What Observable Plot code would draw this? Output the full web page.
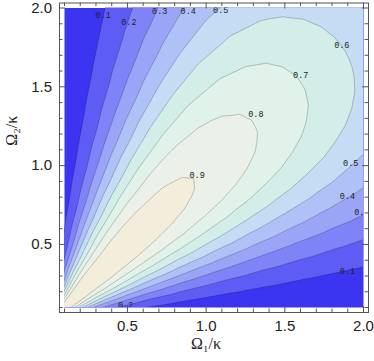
<!DOCTYPE html>
<html>
<head>
<meta charset="utf-8">
<script src="https://cdn.jsdelivr.net/npm/d3@7"></script>
<script src="https://cdn.jsdelivr.net/npm/@observablehq/plot@0.6"></script>
<style>
  html, body { margin: 0; padding: 0; background: #fff; }
  #chart svg { display: block; }
</style>
</head>
<body>
<div id="chart"></div>
<script>
const angles = [0, 2.5, 5, 7.5, 10, 12.5, 15, 17.5, 20, 22.5, 25, 27.5, 30, 32.5, 35, 37.5, 40, 42.5, 45,
                47.5, 50, 52.5, 55, 57.5, 60, 62.5, 65, 67.5, 70, 72.5, 75, 77.5, 80, 82.5, 85, 87.5, 90];
const radii = [0.12, 0.35, 0.65, 0.9, 1.15, 1.4, 1.65, 1.9, 2.15, 2.4, 2.65, 2.9];
const values = [
  [0, 0, 0, 0, 0, 0, 0, 0, 0, 0, 0, 0],
  [0.008, 0.008, 0.007, 0.007, 0.007, 0.007, 0.007, 0.007, 0.006, 0.006, 0.006, 0.006],
  [0.030, 0.030, 0.030, 0.029, 0.029, 0.028, 0.027, 0.026, 0.025, 0.024, 0.023, 0.022],
  [0.067, 0.067, 0.066, 0.065, 0.063, 0.062, 0.060, 0.058, 0.055, 0.053, 0.050, 0.047],
  [0.117, 0.116, 0.115, 0.113, 0.111, 0.108, 0.104, 0.100, 0.095, 0.091, 0.085, 0.080],
  [0.178, 0.178, 0.175, 0.172, 0.168, 0.164, 0.158, 0.151, 0.144, 0.136, 0.128, 0.119],
  [0.250, 0.249, 0.245, 0.241, 0.235, 0.228, 0.220, 0.210, 0.199, 0.187, 0.174, 0.161],
  [0.329, 0.327, 0.322, 0.316, 0.309, 0.299, 0.287, 0.274, 0.259, 0.242, 0.224, 0.205],
  [0.413, 0.411, 0.405, 0.397, 0.387, 0.374, 0.358, 0.341, 0.321, 0.299, 0.275, 0.250],
  [0.500, 0.497, 0.489, 0.480, 0.467, 0.451, 0.431, 0.409, 0.384, 0.356, 0.325, 0.293],
  [0.586, 0.583, 0.574, 0.562, 0.547, 0.527, 0.503, 0.476, 0.445, 0.410, 0.373, 0.334],
  [0.671, 0.667, 0.656, 0.642, 0.624, 0.601, 0.573, 0.540, 0.503, 0.462, 0.418, 0.371],
  [0.749, 0.745, 0.733, 0.717, 0.696, 0.669, 0.637, 0.600, 0.557, 0.509, 0.458, 0.404],
  [0.821, 0.816, 0.802, 0.785, 0.761, 0.731, 0.695, 0.653, 0.604, 0.551, 0.493, 0.432],
  [0.882, 0.877, 0.862, 0.843, 0.817, 0.785, 0.745, 0.698, 0.645, 0.586, 0.522, 0.455],
  [0.932, 0.927, 0.911, 0.890, 0.863, 0.828, 0.785, 0.735, 0.677, 0.614, 0.545, 0.473],
  [0.969, 0.963, 0.947, 0.925, 0.896, 0.859, 0.814, 0.761, 0.701, 0.634, 0.562, 0.486],
  [0.992, 0.986, 0.969, 0.946, 0.916, 0.878, 0.832, 0.778, 0.715, 0.646, 0.572, 0.494],
  [0.999, 0.993, 0.976, 0.954, 0.923, 0.885, 0.838, 0.783, 0.720, 0.650, 0.575, 0.496],
  [0.992, 0.986, 0.969, 0.946, 0.916, 0.878, 0.832, 0.778, 0.715, 0.646, 0.572, 0.494],
  [0.969, 0.963, 0.947, 0.925, 0.896, 0.859, 0.814, 0.761, 0.701, 0.634, 0.562, 0.486],
  [0.932, 0.927, 0.911, 0.890, 0.863, 0.828, 0.785, 0.735, 0.677, 0.614, 0.545, 0.473],
  [0.882, 0.877, 0.862, 0.843, 0.817, 0.785, 0.745, 0.698, 0.645, 0.586, 0.522, 0.455],
  [0.821, 0.816, 0.802, 0.785, 0.761, 0.731, 0.695, 0.653, 0.604, 0.551, 0.493, 0.432],
  [0.749, 0.745, 0.733, 0.717, 0.696, 0.669, 0.637, 0.600, 0.557, 0.509, 0.458, 0.404],
  [0.671, 0.667, 0.656, 0.642, 0.624, 0.601, 0.573, 0.540, 0.503, 0.462, 0.418, 0.371],
  [0.586, 0.583, 0.574, 0.562, 0.547, 0.527, 0.503, 0.476, 0.445, 0.410, 0.373, 0.334],
  [0.500, 0.497, 0.489, 0.480, 0.467, 0.451, 0.431, 0.409, 0.384, 0.356, 0.325, 0.293],
  [0.413, 0.411, 0.405, 0.397, 0.387, 0.374, 0.358, 0.341, 0.321, 0.299, 0.275, 0.250],
  [0.329, 0.327, 0.322, 0.316, 0.309, 0.299, 0.287, 0.274, 0.259, 0.242, 0.224, 0.205],
  [0.250, 0.249, 0.245, 0.241, 0.235, 0.228, 0.220, 0.210, 0.199, 0.187, 0.174, 0.161],
  [0.178, 0.178, 0.175, 0.172, 0.168, 0.164, 0.158, 0.151, 0.144, 0.136, 0.128, 0.119],
  [0.117, 0.116, 0.115, 0.113, 0.111, 0.108, 0.104, 0.100, 0.095, 0.091, 0.085, 0.080],
  [0.067, 0.067, 0.066, 0.065, 0.063, 0.062, 0.060, 0.058, 0.055, 0.053, 0.050, 0.047],
  [0.030, 0.030, 0.030, 0.029, 0.029, 0.028, 0.027, 0.026, 0.025, 0.024, 0.023, 0.022],
  [0.008, 0.008, 0.007, 0.007, 0.007, 0.007, 0.007, 0.007, 0.006, 0.006, 0.006, 0.006],
  [0, 0, 0, 0, 0, 0, 0, 0, 0, 0, 0, 0]
];

const thresholds = [0.1, 0.2, 0.3, 0.4, 0.5, 0.6, 0.7, 0.8, 0.9];
const bandColors = ["#3b35f2", "#5d5cf5", "#7e84f7", "#9aa5f8", "#afc2f7", "#c4dcf4", "#d3eee9", "#e1f2ea", "#ebf1e8", "#f3eedc"];

// contour labels as they appear in the picture
const labelText = ["0.1", "0.2", "0.3", "0.4", "0.5", "0.6", "0.7", "0.8", "0.9", "0.5", "0.4", "0.3", "0.1", "0.2"];
const labelX = [0.346, 0.509, 0.705, 0.886, 1.093, 1.862, 1.601, 1.316, 0.943, 1.919, 1.898, 1.99, 1.898, 0.488];
const labelY = [1.951, 1.909, 1.982, 1.98, 1.987, 1.766, 1.574, 1.326, 0.937, 1.013, 0.805, 0.704, 0.329, 0.117];

const majorTicks = [0.5, 1.0, 1.5, 2.0];
const minorTicks = [0.1, 0.2, 0.3, 0.4, 0.6, 0.7, 0.8, 0.9, 1.1, 1.2, 1.3, 1.4, 1.6, 1.7, 1.8, 1.9];
const domainX = [0.1, 2.0];
const domainY = [0.1, 2.0];

const xLabel = "Ω₁/κ";
const yLabel = "Ω₂/κ";

const points = [];
angles.forEach((a, i) => {
  radii.forEach((r, j) => {
    const t = a * Math.PI / 180;
    points.push({x: r * Math.cos(t), y: r * Math.sin(t), v: values[i][j]});
  });
});
const labels = labelText.map((t, i) => ({x: labelX[i], y: labelY[i], t}));

const frameColor = "#555";
const ext = 0.01;

const chart = Plot.plot({
  width: 374,
  height: 361,
  marginLeft: 64,
  marginRight: 11,
  marginTop: 7.5,
  marginBottom: 54,
  x: {domain: domainX},
  y: {domain: domainY},
  color: {type: "ordinal", domain: thresholds, range: bandColors.slice(1)},
  style: {background: "#fff"},
  marks: [
    Plot.frame({fill: bandColors[0], stroke: null}),
    Plot.contour(points, {
      x: "x", y: "y", fill: "v",
      thresholds,
      interpolate: "barycentric",
      pixelSize: 1,
      x1: domainX[0] - ext, x2: domainX[1] + ext,
      y1: domainY[0] - ext, y2: domainY[1] + ext,
      stroke: "#000", strokeOpacity: 0.28, strokeWidth: 0.8,
      clip: "frame"
    }),
    Plot.text(labels, {
      x: "x", y: "y", text: "t",
      fontFamily: "Liberation Mono, DejaVu Sans Mono, monospace",
      fontSize: 8.5, fill: "#222", clip: "frame"
    }),
    Plot.frame({inset: -5, stroke: frameColor, strokeWidth: 1}),
    // bottom ticks
    Plot.ruleX(majorTicks, {x: d => d, insetTop: 298.5, insetBottom: -5, stroke: frameColor}),
    Plot.ruleX(minorTicks, {x: d => d, insetTop: 301, insetBottom: -5, stroke: frameColor}),
    // top ticks
    Plot.ruleX(majorTicks, {x: d => d, insetTop: -5, insetBottom: 298.5, stroke: frameColor}),
    Plot.ruleX(minorTicks, {x: d => d, insetTop: -5, insetBottom: 301, stroke: frameColor}),
    // left ticks
    Plot.ruleY(majorTicks, {y: d => d, insetLeft: -5, insetRight: 298, stroke: frameColor}),
    Plot.ruleY(minorTicks, {y: d => d, insetLeft: -5, insetRight: 300.5, stroke: frameColor}),
    // right ticks
    Plot.ruleY(majorTicks, {y: d => d, insetRight: -5, insetLeft: 298, stroke: frameColor}),
    Plot.ruleY(minorTicks, {y: d => d, insetRight: -5, insetLeft: 300.5, stroke: frameColor}),
    Plot.axisX(majorTicks, {
      tickSize: 0, tickPadding: 13, tickFormat: d => d.toFixed(1),
      fontSize: 15, fontFamily: "Liberation Sans, Arial, sans-serif", fill: "#222", label: null
    }),
    Plot.axisY(majorTicks, {
      tickSize: 0, tickPadding: 12.5, tickFormat: d => d.toFixed(1),
      fontSize: 15, fontFamily: "Liberation Sans, Arial, sans-serif", fill: "#222", label: null
    }),
    Plot.text([xLabel], {
      text: d => d, frameAnchor: "bottom", dy: 41, dx: -8,
      fontSize: 16, fontFamily: "Liberation Serif, Times New Roman, serif", fill: "#222"
    }),
    Plot.text([yLabel], {
      text: d => d, frameAnchor: "left", rotate: -90, dx: -53, dy: -12,
      fontSize: 16, fontFamily: "Liberation Serif, Times New Roman, serif", fill: "#222"
    })
  ]
});
document.getElementById("chart").appendChild(chart);
</script>
</body>
</html>
